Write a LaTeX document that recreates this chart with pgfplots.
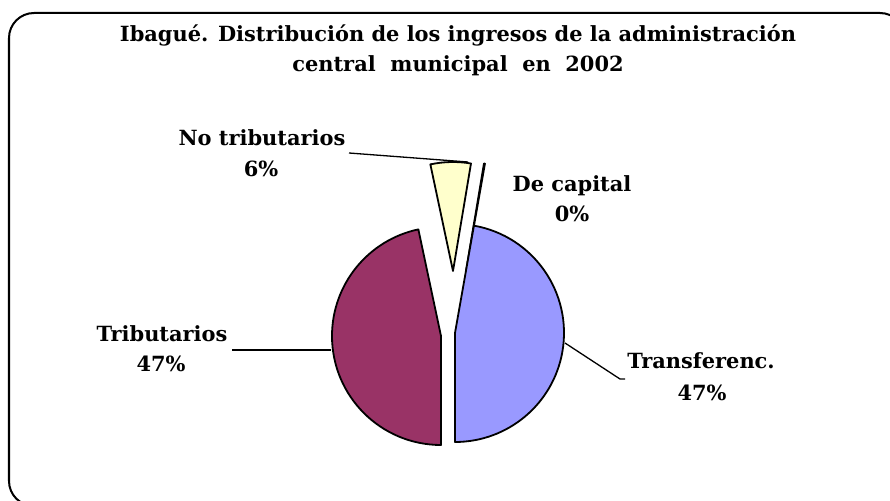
\documentclass[border=0pt]{standalone}
\usepackage{pgfplots}
\pgfplotsset{compat=1.18}
\usepackage{pgfplotstable}
\usepackage{fontspec}
\setmainfont{DejaVu Serif}
\definecolor{transf}{HTML}{9999FF}
\definecolor{trib}{HTML}{993366}
\definecolor{notrib}{HTML}{FFFFCC}
\definecolor{decap}{HTML}{FFFFFF}
% value in percent, exploded slice centre (cx, cy) in picture units
\pgfplotstableread{
name value cx cy col
Tributarios 46.67 441 165 trib
NoTributarios 5.97 453 230 notrib
DeCapital 0.14 466 230 decap
Transferenc 47.22 455 168 transf
}\piedata
\begin{document}
\begin{tikzpicture}
\def\cum{270}%
\pgfplotsforeachungrouped \i in {0,1,2,3}{%
  \pgfplotstablegetelem{\i}{value}\of\piedata
  \pgfmathsetmacro\tmpend{\cum-3.6*\pgfplotsretval}%
  \expandafter\xdef\csname sa\i\endcsname{\cum}%
  \expandafter\xdef\csname ea\i\endcsname{\tmpend}%
  \xdef\cum{\tmpend}%
  \pgfplotstablegetelem{\i}{cx}\of\piedata
  \expandafter\xdef\csname cx\i\endcsname{\pgfplotsretval}%
  \pgfplotstablegetelem{\i}{cy}\of\piedata
  \expandafter\xdef\csname cy\i\endcsname{\pgfplotsretval}%
  \pgfplotstablegetelem{\i}{col}\of\piedata
  \colorlet{slice\i}{\pgfplotsretval}%
}%
\begin{axis}[
  x=1bp, y=1bp, xmin=0, xmax=890, ymin=0, ymax=501,
  enlargelimits=false, hide axis, clip=false, disabledatascaling,
]
\draw[line width=2bp, rounded corners=25bp] (axis cs:9,-5) rectangle (axis cs:905,488);
\pgfplotsinvokeforeach{2,0,1,3}{%
  \filldraw[fill=slice#1, draw=black, line width=1.8bp, line join=round]
    (axis cs:\csname cx#1\endcsname,\csname cy#1\endcsname)
    -- ++(\csname sa#1\endcsname:109bp)
    arc[start angle=\csname sa#1\endcsname, end angle=\csname ea#1\endcsname, radius=109bp]
    -- cycle;
}
% leader lines
\draw[line width=1.3bp] (axis cs:349,348) -- (axis cs:468,339);
\draw[line width=1.3bp] (axis cs:232,151) -- (axis cs:331,151);
\draw[line width=1.3bp] (axis cs:565,158) -- (axis cs:620,122) -- (axis cs:625,122);
% texts
\begin{scope}[every node/.style={anchor=base, inner sep=0pt, font=\bfseries\fontsize{21}{21}\selectfont}]
\node at (axis cs:458,459) {Ibagué. Distribución de los ingresos de la administración};
\node at (axis cs:458,429) {central\hspace{0.35em} municipal\hspace{0.35em} en\hspace{0.35em} 2002};
\end{scope}
\begin{scope}[every node/.style={anchor=base, inner sep=0pt, font=\bfseries\fontsize{21}{21}\selectfont}]
\node at (axis cs:262,356) {No tributarios};
\node at (axis cs:261,325) {6\%};
\node at (axis cs:572,310) {De capital};
\node at (axis cs:572,280) {0\%};
\node at (axis cs:162,160) {Tributarios};
\node at (axis cs:161,130) {47\%};
\node at (axis cs:701,133) {Transferenc.};
\node at (axis cs:702,101) {47\%};
\end{scope}
\end{axis}
\pgfresetboundingbox
\path[use as bounding box] (0,0) rectangle (890bp,501bp);
\end{tikzpicture}
\end{document}
